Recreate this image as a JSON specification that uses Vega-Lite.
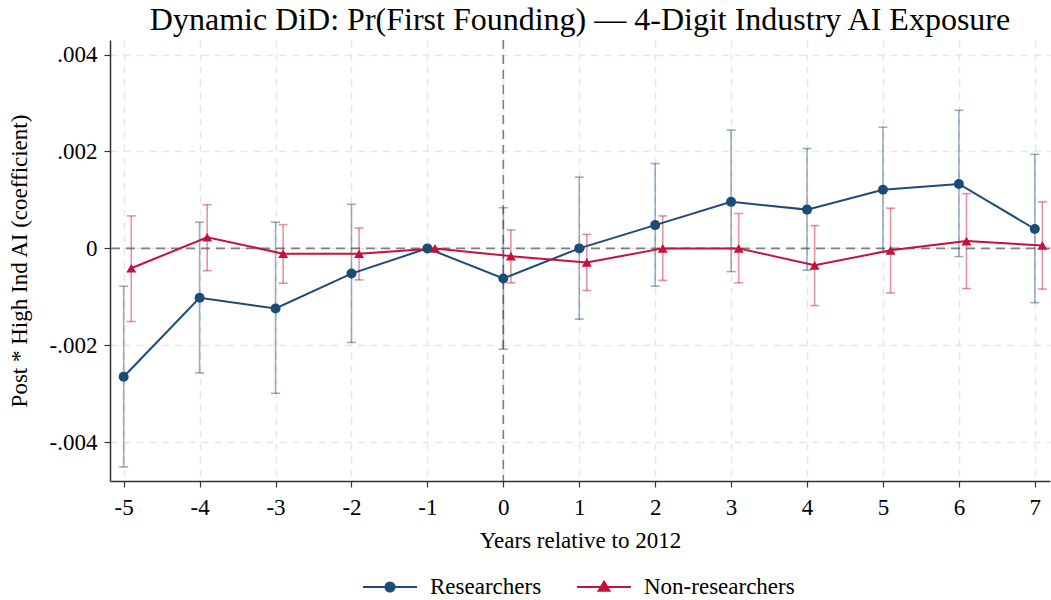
{
  "$schema": "https://vega.github.io/schema/vega-lite/v6.json",
  "width": 940,
  "height": 441,
  "autosize": {"type": "none"},
  "padding": {"left": 110, "top": 40, "right": 1, "bottom": 119},
  "title": {
    "text": "Dynamic DiD: Pr(First Founding) — 4-Digit Industry AI Exposure",
    "font": "Liberation Serif",
    "fontSize": 32,
    "fontWeight": "normal",
    "color": "#000000",
    "anchor": "middle",
    "offset": 2
  },
  "config": {
    "font": "Liberation Serif",
    "view": {"stroke": null},
    "axis": {
      "labelFont": "Liberation Serif",
      "titleFont": "Liberation Serif",
      "labelFontSize": 23,
      "titleFontSize": 23,
      "titleFontWeight": "normal",
      "labelColor": "#000000",
      "titleColor": "#000000",
      "domainColor": "#333333",
      "domainWidth": 1.5,
      "tickColor": "#333333",
      "tickWidth": 1.2,
      "tickSize": 6,
      "gridColor": "#e6e6e6",
      "gridDash": [7, 6],
      "gridWidth": 1.5
    }
  },
  "datasets": {
    "coef": [
      {"t": -5, "group": "Researchers", "b": -0.00265, "lo": -0.00451, "hi": -0.00078},
      {"t": -4, "group": "Researchers", "b": -0.00102, "lo": -0.00257, "hi": 0.00054},
      {"t": -3, "group": "Researchers", "b": -0.00124, "lo": -0.00299, "hi": 0.00054},
      {"t": -2, "group": "Researchers", "b": -0.00052, "lo": -0.00194, "hi": 0.00091},
      {"t": -1, "group": "Researchers", "b": 0, "lo": null, "hi": null},
      {"t": 0, "group": "Researchers", "b": -0.00062, "lo": -0.00208, "hi": 0.00084},
      {"t": 1, "group": "Researchers", "b": 0.0, "lo": -0.00146, "hi": 0.00147},
      {"t": 2, "group": "Researchers", "b": 0.00048, "lo": -0.00078, "hi": 0.00175},
      {"t": 3, "group": "Researchers", "b": 0.00096, "lo": -0.00048, "hi": 0.00244},
      {"t": 4, "group": "Researchers", "b": 0.0008, "lo": -0.00045, "hi": 0.00206},
      {"t": 5, "group": "Researchers", "b": 0.00121, "lo": -0.00008, "hi": 0.0025},
      {"t": 6, "group": "Researchers", "b": 0.00133, "lo": -0.00017, "hi": 0.00285},
      {"t": 7, "group": "Researchers", "b": 0.0004, "lo": -0.00112, "hi": 0.00194},
      {"t": -5, "group": "Non-researchers", "b": -0.00041, "lo": -0.00151, "hi": 0.00067},
      {"t": -4, "group": "Non-researchers", "b": 0.00023, "lo": -0.00046, "hi": 0.0009},
      {"t": -3, "group": "Non-researchers", "b": -0.00011, "lo": -0.00072, "hi": 0.00049},
      {"t": -2, "group": "Non-researchers", "b": -0.00011, "lo": -0.00065, "hi": 0.00042},
      {"t": -1, "group": "Non-researchers", "b": 0, "lo": null, "hi": null},
      {"t": 0, "group": "Non-researchers", "b": -0.00016, "lo": -0.00071, "hi": 0.00038},
      {"t": 1, "group": "Non-researchers", "b": -0.00029, "lo": -0.00087, "hi": 0.00029},
      {"t": 2, "group": "Non-researchers", "b": 0.0, "lo": -0.00066, "hi": 0.00067},
      {"t": 3, "group": "Non-researchers", "b": 0.0, "lo": -0.00071, "hi": 0.00072},
      {"t": 4, "group": "Non-researchers", "b": -0.00035, "lo": -0.00118, "hi": 0.00047},
      {"t": 5, "group": "Non-researchers", "b": -0.00004, "lo": -0.00092, "hi": 0.00083},
      {"t": 6, "group": "Non-researchers", "b": 0.00015, "lo": -0.00083, "hi": 0.00113},
      {"t": 7, "group": "Non-researchers", "b": 0.00006, "lo": -0.00084, "hi": 0.00096}
    ],
    "refs": [{"t": 0, "b": 0}]
  },
  "layer": [
    {
      "data": {"name": "refs"},
      "mark": {"type": "rule", "color": "#7f7f7f", "strokeWidth": 1.6, "strokeDash": [9, 6]},
      "encoding": {
        "y": {
          "field": "b",
          "type": "quantitative",
          "scale": {"domain": [-0.0048, 0.0043], "nice": false, "zero": false},
          "axis": {
            "values": [-0.004, -0.002, 0, 0.002, 0.004],
            "labelExpr": "datum.value == 0 ? '0' : (datum.value < 0 ? '-' : '') + replace(format(abs(datum.value), '.3f'), '0.', '.')",
            "title": "Post * High Ind AI (coefficient)",
            "titlePadding": 18,
            "labelPadding": 7
          }
        }
      }
    },
    {
      "data": {"name": "refs"},
      "mark": {"type": "rule", "color": "#7f7f7f", "strokeWidth": 1.6, "strokeDash": [9, 6]},
      "encoding": {
        "x": {
          "field": "t",
          "type": "quantitative",
          "scale": {"domain": [-5.18, 7.2], "nice": false, "zero": false},
          "axis": {
            "values": [-5, -4, -3, -2, -1, 0, 1, 2, 3, 4, 5, 6, 7],
            "labelExpr": "datum.value < 0 ? '-' + abs(datum.value) : '' + datum.value",
            "title": "Years relative to 2012",
            "labelPadding": 9,
            "titlePadding": 10
          }
        }
      }
    },
    {
      "data": {"name": "coef"},
      "transform": [
        {"calculate": "datum.t + (datum.group === 'Non-researchers' ? 0.1 : 0)", "as": "xpos"}
      ],
      "encoding": {
        "x": {"field": "xpos", "type": "quantitative"},
        "color": {
          "field": "group",
          "type": "nominal",
          "scale": {"domain": ["Researchers", "Non-researchers"], "range": ["#1c4b78", "#c8103e"]},
          "legend": {
            "title": null,
            "orient": "none",
            "legendX": 252,
            "legendY": 519,
            "direction": "horizontal",
            "labelFont": "Liberation Serif",
            "labelFontSize": 23,
            "labelColor": "#000000",
            "labelLimit": 300,
            "columnPadding": 31,
            "labelOffset": 12,
            "symbolType": "M-1,0H1M-0.17,0A0.17,0.17 0 1,1 0.17,0A0.17,0.17 0 1,1 -0.17,0Z",
            "symbolSize": 2916,
            "symbolStrokeWidth": 2,
            "encode": {
              "symbols": {
                "update": {
                  "shape": {"signal": "datum.value === 'Researchers' ? 'M-1,0H1M-0.17,0A0.17,0.17 0 1,1 0.17,0A0.17,0.17 0 1,1 -0.17,0Z' : 'M-1,0H1M0,-0.2L0.2,0.14L-0.2,0.14Z'"},
                  "fill": {"scale": "color", "field": "value"},
                  "stroke": {"scale": "color", "field": "value"},
                  "strokeWidth": {"value": 2},
                  "opacity": {"value": 1}
                }
              }
            }
          }
        }
      },
      "layer": [
        {
          "mark": {"type": "rule", "strokeWidth": 1.6, "opacity": 0.45},
          "encoding": {
            "y": {"field": "lo", "type": "quantitative"},
            "y2": {"field": "hi"}
          }
        },
        {
          "mark": {"type": "tick", "orient": "horizontal", "size": 9, "thickness": 1.6, "opacity": 0.45},
          "encoding": {
            "y": {"field": "lo", "type": "quantitative"}
          }
        },
        {
          "mark": {"type": "tick", "orient": "horizontal", "size": 9, "thickness": 1.6, "opacity": 0.45},
          "encoding": {
            "y": {"field": "hi", "type": "quantitative"}
          }
        },
        {
          "mark": {"type": "line", "strokeWidth": 2},
          "encoding": {
            "y": {"field": "b", "type": "quantitative"}
          }
        },
        {
          "transform": [{"filter": "datum.group === 'Researchers'"}],
          "mark": {"type": "point", "shape": "circle", "filled": true, "opacity": 1, "size": 100},
          "encoding": {
            "y": {"field": "b", "type": "quantitative"}
          }
        },
        {
          "transform": [{"filter": "datum.group === 'Non-researchers'"}],
          "mark": {"type": "point", "shape": "triangle-up", "filled": true, "opacity": 1, "size": 100},
          "encoding": {
            "y": {"field": "b", "type": "quantitative"}
          }
        }
      ]
    }
  ]
}
